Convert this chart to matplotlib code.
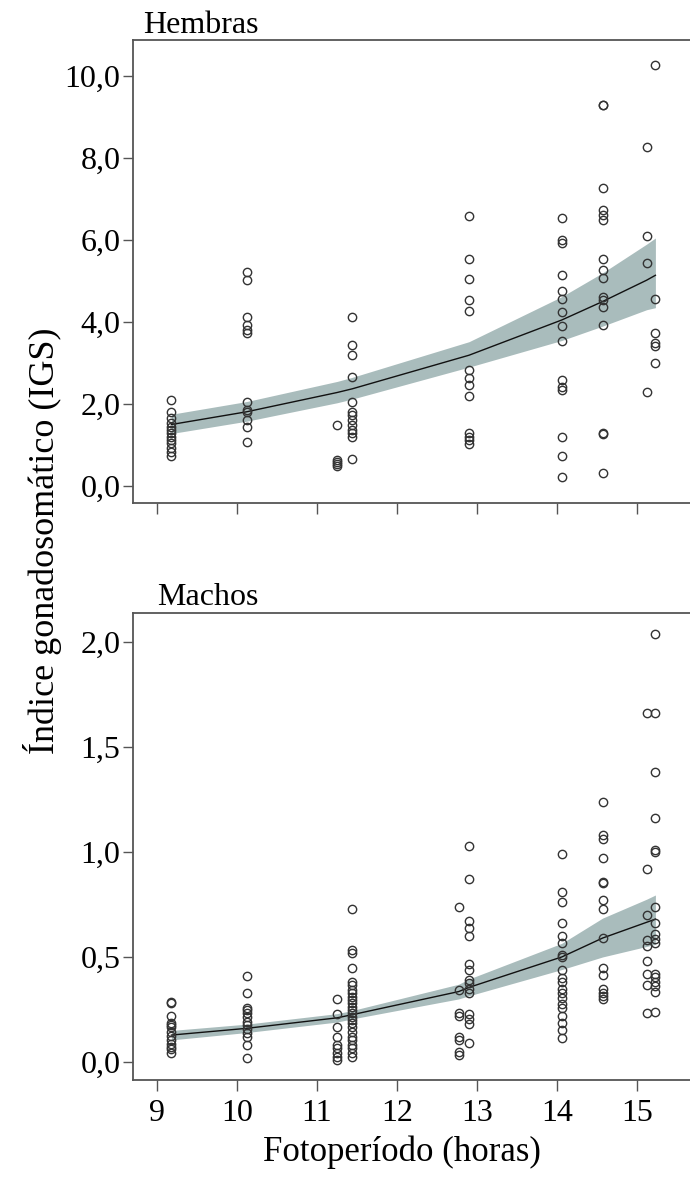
import matplotlib
matplotlib.use("Agg")
import matplotlib.pyplot as plt

plt.rcParams['font.family'] = ['Liberation Serif', 'DejaVu Serif']

# --- Hembras ---
fem_foto = [9.18, 10.12, 11.25, 11.44, 12.9, 14.06, 14.57, 15.12, 15.23]
fem_igs = [
    [2.10, 1.81, 1.65, 1.53, 1.45, 1.37, 1.29, 1.20, 1.12, 1.04, 0.92, 0.84, 0.73],
    [5.23, 5.02, 4.13, 3.93, 3.80, 3.72, 2.06, 1.85, 1.80, 1.61, 1.43, 1.08],
    [1.49, 0.63, 0.58, 0.53, 0.49],
    [4.13, 3.44, 3.20, 2.67, 2.06, 1.81, 1.73, 1.61, 1.49, 1.37, 1.29, 1.20, 0.65],
    [6.59, 5.53, 5.04, 4.54, 4.28, 2.83, 2.63, 2.46, 2.20, 1.30, 1.20, 1.12, 1.02],
    [6.53, 6.00, 5.92, 5.15, 4.76, 4.55, 4.25, 3.90, 3.54, 2.59, 2.42, 2.34, 1.19, 0.72, 0.23],
    [9.29, 9.29, 7.26, 6.73, 6.61, 6.49, 5.53, 5.27, 5.08, 4.62, 4.54, 4.37, 3.93, 1.30, 1.27, 0.32],
    [8.26, 6.10, 5.45, 2.30],
    [10.27, 4.56, 3.72, 3.48, 3.41, 3.01],
]
fem_fit = [1.50, 1.81, 2.28, 2.37, 3.19, 4.05, 4.50, 5.02, 5.14]
fem_low = [1.28, 1.58, 2.03, 2.12, 2.90, 3.55, 3.90, 4.30, 4.35]
fem_high = [1.75, 2.06, 2.55, 2.65, 3.52, 4.62, 5.20, 5.90, 6.05]
fem_yticks = [0, 2, 4, 6, 8, 10]
fem_ylabels = ['0,0', '2,0', '4,0', '6,0', '8,0', '10,0']

# --- Machos ---
mac_foto = [9.18, 10.12, 11.25, 11.44, 12.77, 12.9, 14.06, 14.57, 15.12, 15.23]
mac_igs = [
    [0.287, 0.28, 0.22, 0.187, 0.176, 0.165, 0.144, 0.124, 0.105, 0.086, 0.073, 0.06, 0.044],
    [0.41, 0.33, 0.256, 0.245, 0.232, 0.213, 0.192, 0.176, 0.156, 0.137, 0.118, 0.081, 0.018],
    [0.30, 0.23, 0.165, 0.12, 0.08, 0.065, 0.044, 0.025, 0.01],
    [0.73, 0.533, 0.518, 0.446, 0.38, 0.367, 0.343, 0.327, 0.311, 0.295, 0.279, 0.263,
     0.248, 0.232, 0.216, 0.20, 0.184, 0.165, 0.144, 0.121, 0.105, 0.081, 0.065, 0.041, 0.022],
    [0.74, 0.343, 0.235, 0.219, 0.12, 0.105, 0.049, 0.033],
    [1.03, 0.87, 0.67, 0.64, 0.60, 0.467, 0.438, 0.39, 0.375, 0.346, 0.33, 0.229, 0.203, 0.181, 0.089],
    [0.99, 0.81, 0.76, 0.66, 0.60, 0.565, 0.51, 0.50, 0.44, 0.40, 0.38, 0.346, 0.327,
     0.303, 0.276, 0.256, 0.219, 0.187, 0.152, 0.113],
    [1.24, 1.08, 1.06, 0.97, 0.855, 0.85, 0.77, 0.73, 0.59, 0.446, 0.414, 0.346, 0.33, 0.314, 0.30],
    [1.66, 0.92, 0.70, 0.58, 0.55, 0.48, 0.42, 0.367, 0.235],
    [2.04, 1.66, 1.38, 1.16, 1.01, 1.00, 0.74, 0.66, 0.61, 0.585, 0.565, 0.42, 0.406,
     0.38, 0.36, 0.335, 0.24],
]
mac_fit = [0.128, 0.16, 0.21, 0.225, 0.335, 0.355, 0.50, 0.59, 0.665, 0.68]
mac_low = [0.105, 0.14, 0.19, 0.205, 0.30, 0.315, 0.44, 0.50, 0.55, 0.56]
mac_high = [0.15, 0.18, 0.23, 0.245, 0.37, 0.395, 0.565, 0.685, 0.775, 0.795]
mac_yticks = [0, 0.5, 1.0, 1.5, 2.0]
mac_ylabels = ['0,0', '0,5', '1,0', '1,5', '2,0']

xticks = [9, 10, 11, 12, 13, 14, 15]

fig = plt.figure(figsize=(6.9, 11.86), dpi=100)
ax1 = fig.add_axes([133 / 690, 1 - 503 / 1186, 562 / 690, 463 / 1186])
ax2 = fig.add_axes([133 / 690, 1 - 1080 / 1186, 562 / 690, 467 / 1186])

band_col = '#a9bcbc'
edge = '#333333'


def panel(ax, foto, igs, fit, low, high, ylim, yticks, ylabels):
    ax.fill_between(foto, low, high, color=band_col, lw=0, zorder=1)
    ax.plot(foto, fit, color='#111111', lw=1.0, zorder=2)
    for x, vals in zip(foto, igs):
        ax.plot([x] * len(vals), vals, 'o', ms=6, mfc='none', mec=edge, mew=1.0, zorder=3)
    ax.set_xlim(8.70, 15.725)
    ax.set_ylim(*ylim)
    ax.set_xticks(xticks)
    ax.set_yticks(yticks)
    ax.set_yticklabels(ylabels)
    for s in ['left', 'top', 'bottom']:
        ax.spines[s].set_color('#555555')
        ax.spines[s].set_linewidth(1.3)
    ax.spines['right'].set_visible(False)
    ax.tick_params(axis='y', length=7, width=1.0, color='#555555', labelsize=23, pad=2)
    ax.tick_params(axis='x', length=8, width=1.0, color='#555555', labelsize=23, pad=6)


panel(ax1, fem_foto, fem_igs, fem_fit, fem_low, fem_high, (-0.415, 10.88), fem_yticks, fem_ylabels)
panel(ax2, mac_foto, mac_igs, mac_fit, mac_low, mac_high, (-0.086, 2.138), mac_yticks, mac_ylabels)
ax1.tick_params(axis='x', labelbottom=False)

fig.text(143 / 690, 1 - 33 / 1186, 'Hembras', fontsize=23, ha='left', va='baseline')
fig.text(157 / 690, 1 - 605 / 1186, 'Machos', fontsize=23, ha='left', va='baseline')
fig.text(43 / 690, 1 - 541 / 1186, 'Índice gonadosomático (IGS)', fontsize=26,
         rotation=90, ha='center', va='center')
fig.text(402 / 690, 1 - 1152 / 1186, 'Fotoperíodo (horas)', fontsize=25, ha='center', va='center')

fig.savefig('out.png', dpi=100)
